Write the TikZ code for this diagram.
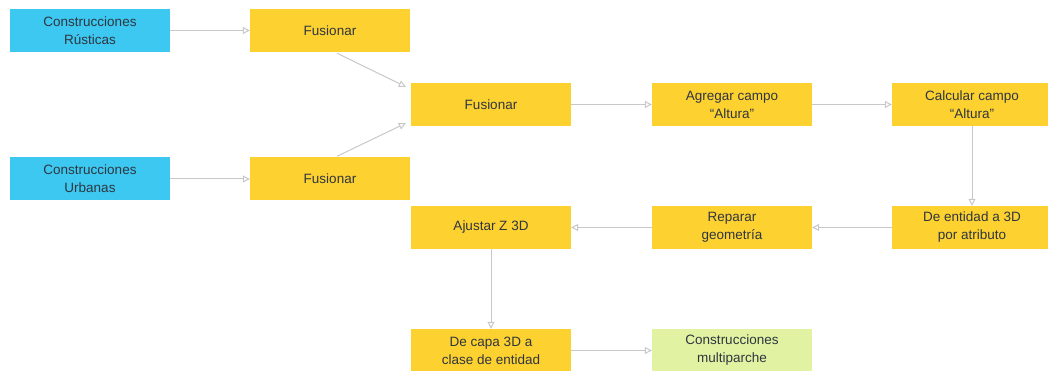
\documentclass[tikz,border=0pt]{standalone}
\usepackage{fontspec}
\setmainfont{Liberation Sans}
\usetikzlibrary{arrows.meta}
\definecolor{boxblue}{HTML}{3CC8F0}
\definecolor{boxyellow}{HTML}{FDD12F}
\definecolor{boxgreen}{HTML}{E1F2A2}
\definecolor{linegrey}{HTML}{C8C8C8}
\definecolor{textdark}{HTML}{2F3640}
\begin{document}
\begin{tikzpicture}[x=1pt,y=-1pt,
  box/.style={minimum width=160pt,minimum height=43pt,inner sep=2pt,align=center,text=textdark,font=\fontsize{13.5}{18}\selectfont},
  source/.style={box,fill=boxblue},
  tool/.style={box,fill=boxyellow},
  result/.style={box,fill=boxgreen},
  flow/.style={draw=linegrey,line width=1pt,-{Triangle[open,length=7pt,width=7pt]}}]
\useasboundingbox (0,0) rectangle (1048,371);
\node[source] (rust) at (90,30.5) {Construcciones\\Rústicas};
\node[source] (urb) at (90,179) {Construcciones\\Urbanas};
\node[tool] (fus1) at (330,30.5) {Fusionar};
\node[tool] (fus2) at (330,179) {Fusionar};
\node[tool] (fus3) at (491,104.5) {Fusionar};
\node[tool] (agregar) at (732,104.5) {Agregar campo\\“Altura”};
\node[tool] (calcular) at (972,104.5) {Calcular campo\\“Altura”};
\node[tool] (entidad) at (972,227.5) {De entidad a 3D\\por atributo};
\node[tool] (reparar) at (732,227.5) {Reparar\\geometría};
\node[tool] (ajustar) at (491,227.5) {Ajustar Z 3D};
\node[tool] (capa) at (491,350.5) {De capa 3D a\\clase de entidad};
\node[result] (multi) at (732,350.5) {Construcciones\\multiparche};
\draw[flow] (rust) -- (fus1);
\draw[flow] (urb) -- (fus2);
\draw[flow] ([xshift=7pt,yshift=-1pt]fus1.south) -- ([xshift=-5pt,yshift=-4pt]fus3.north west);
\draw[flow] ([xshift=7pt,yshift=1pt]fus2.north) -- ([xshift=-5pt,yshift=3pt]fus3.south west);
\foreach \a/\b in {fus3/agregar,agregar/calcular,calcular/entidad,entidad/reparar,reparar/ajustar,ajustar/capa,capa/multi}
  \draw[flow] (\a) -- (\b);
\end{tikzpicture}
\end{document}
